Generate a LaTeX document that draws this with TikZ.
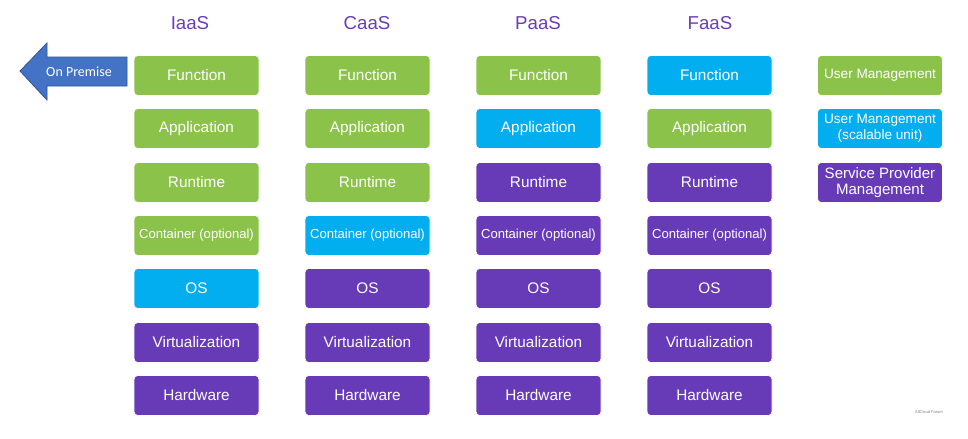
\documentclass[tikz,border=0pt]{standalone}
\usepackage{fontspec}
\setmainfont{Liberation Sans}
\newfontfamily\calibri{Carlito}
\usetikzlibrary{positioning}

\definecolor{layergreen}{HTML}{8BC34A}
\definecolor{layercyan}{HTML}{03AEF0}
\definecolor{layerpurple}{HTML}{673AB7}
\definecolor{headpurple}{HTML}{6A3DB9}
\definecolor{premblue}{HTML}{4472C4}
\definecolor{premedge}{HTML}{2F5597}

\tikzset{
  layer/.style={rounded corners=3pt, minimum width=93.75pt, minimum height=30pt,
    inner sep=0pt, align=center, text=white, font=\fontsize{11.5}{13}\selectfont,
    draw=white, line width=0.4pt},
  user/.style={layer, fill=layergreen},
  scale unit/.style={layer, fill=layercyan},
  provider/.style={layer, fill=layerpurple},
  small/.style={font=\fontsize{9.8}{11}\selectfont},
  legend/.style={font=\fontsize{10.2}{12}\selectfont},
  head/.style={text=headpurple, font=\fontsize{14}{16}\selectfont},
}

\begin{document}
\begin{tikzpicture}[x=0.75pt, y=-0.75pt]
  \useasboundingbox[fill=white] (0,0) rectangle (968,439);

  % On Premise arrow
  \fill[premblue, draw=premedge, line width=0.6pt]
    (20,71) -- (47,43) -- (47,57) -- (127,57) -- (127,86) -- (47,86) -- (47,100) -- cycle;
  \node[text=white, font=\calibri\fontsize{10.5}{12}\selectfont] (prem) at (79,71.5) {On Premise};

  % Headers
  \node[head] (iaas) at (190,23) {IaaS};
  \node[head] (caas) at (367,23) {CaaS};
  \node[head] (paas) at (538,23) {PaaS};
  \node[head] (faas) at (710,23) {FaaS};

  % Column: IaaS
  \node[user] (i1) at (196.5,75.5) {Function};
  \node[user] (i2) at (196.5,128.5) {Application};
  \node[user] (i3) at (196.5,182.5) {Runtime};
  \node[user, small] (i4) at (196.5,235.5) {Container (optional)};
  \node[scale unit] (i5) at (196.5,288.5) {OS};
  \node[provider] (i6) at (196.5,342.5) {Virtualization};
  \node[provider] (i7) at (196.5,395.5) {Hardware};

  % Column: CaaS
  \node[user] (c1) at (367.5,75.5) {Function};
  \node[user] (c2) at (367.5,128.5) {Application};
  \node[user] (c3) at (367.5,182.5) {Runtime};
  \node[scale unit, small] (c4) at (367.5,235.5) {Container (optional)};
  \node[provider] (c5) at (367.5,288.5) {OS};
  \node[provider] (c6) at (367.5,342.5) {Virtualization};
  \node[provider] (c7) at (367.5,395.5) {Hardware};

  % Column: PaaS
  \node[user] (p1) at (538.5,75.5) {Function};
  \node[scale unit] (p2) at (538.5,128.5) {Application};
  \node[provider] (p3) at (538.5,182.5) {Runtime};
  \node[provider, small] (p4) at (538.5,235.5) {Container (optional)};
  \node[provider] (p5) at (538.5,288.5) {OS};
  \node[provider] (p6) at (538.5,342.5) {Virtualization};
  \node[provider] (p7) at (538.5,395.5) {Hardware};

  % Column: FaaS
  \node[scale unit] (f1) at (709.5,75.5) {Function};
  \node[user] (f2) at (709.5,128.5) {Application};
  \node[provider] (f3) at (709.5,182.5) {Runtime};
  \node[provider, small] (f4) at (709.5,235.5) {Container (optional)};
  \node[provider] (f5) at (709.5,288.5) {OS};
  \node[provider] (f6) at (709.5,342.5) {Virtualization};
  \node[provider] (f7) at (709.5,395.5) {Hardware};

  % Legend
  \node[user, legend] (lg1) at (880,75.5) {User Management};
  \node[scale unit, legend] (lg2) at (880,128.5) {User Management\\(scalable unit)};
  \node[provider, legend, font=\fontsize{11.3}{12}\selectfont] (lg3) at (880,182.5) {Service Provider\\Management};

  % Source
  \node[text=gray, font=\fontsize{3}{3}\selectfont] (src) at (929,412) {AllCloud Forum};
\end{tikzpicture}
\end{document}
